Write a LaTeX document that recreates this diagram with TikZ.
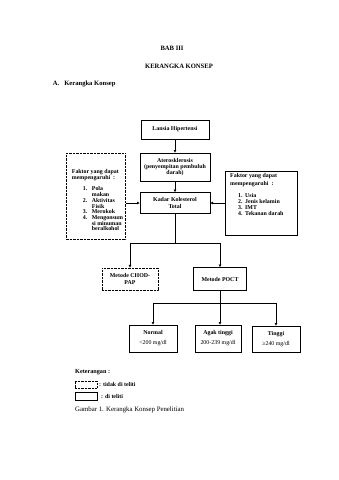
\documentclass[tikz,border=0pt]{standalone}
\usepackage{fontspec}
\setmainfont{Liberation Serif}
\usetikzlibrary{arrows.meta,calc}
\begin{document}
\begin{tikzpicture}[x=1pt,y=-1pt,
  box/.style={draw, line width=0.8pt, inner sep=1pt, align=center, font=\bfseries\fontsize{5.9}{6.4}\selectfont},
  dbox/.style={box, line width=0.9pt, dash pattern=on 0.7pt off 0.7pt},
  arr/.style={line width=0.8pt, -{Triangle[length=2.6pt,width=2.6pt]}},
  ln/.style={line width=0.8pt},
  txt/.style={inner sep=0pt, font=\bfseries\fontsize{5.9}{6.4}\selectfont},
  head/.style={inner sep=0pt, font=\bfseries\fontsize{6.6}{7}\selectfont}]
\fill[white] (0,0) rectangle (339,480);
\useasboundingbox (0,0) rectangle (339,480);

% header
\node[head] (bab) at (172,48) {BAB III};
\node[head] (judul) at (179,66) {KERANGKA KONSEP};
\node[head, anchor=west] (sub) at (52.7,84) {A.\hspace{5pt}Kerangka Konsep};

% main boxes
\node[box, minimum width=68pt, minimum height=19pt] (lansia) at (175,129.5) {Lansia Hipertensi};
\node[box, minimum width=70pt, minimum height=28pt] (atero) at (175,167) {Aterosklerosis\\(penyempitan pembuluh\\darah)};
\node[box, minimum width=70pt, minimum height=21pt] (kadar) at (175,203) {Kadar Kolesterol\\Total};

% left factor box
\node[dbox, minimum width=59pt, minimum height=86pt] (left) at (96.4,196) {};
\node[txt, anchor=base west, font=\bfseries\fontsize{5.9}{5.5}\selectfont] (lt) at (71.7,173.5) {\begin{tabular}[t]{@{}p{11pt}@{}p{9pt}@{}l@{}}
\multicolumn{3}{@{}l@{}}{Faktor yang dapat}\\
\multicolumn{3}{@{}l@{}}{mempengaruhi~~:}\\[6pt]
&1.&Pola\\
&&makan\\
&2.&Aktivitas\\
&&Fisik\\
&3.&Merokok\\
&4.&Mengonsum\\
&&si minuman\\
&&beralkohol
\end{tabular}};

% right factor box
\node[box, minimum width=72pt, minimum height=64pt] (right) at (261,203) {};
\node[txt, anchor=base west, font=\bfseries\fontsize{5.9}{6}\selectfont] (rt) at (230,177.5) {\begin{tabular}[t]{@{}p{8pt}@{}p{7pt}@{}l@{}}
\multicolumn{3}{@{}l@{}}{Faktor yang dapat}\\[1.5pt]
\multicolumn{3}{@{}l@{}}{mempengaruhi~~:}\\[6pt]
&1.&Usia\\
&2.&Jenis kelamin\\
&3.&IMT\\
&4.&Tekanan darah
\end{tabular}};

% methods
\node[dbox, minimum width=56pt, minimum height=22pt] (chod) at (130,279) {Metode CHOD-\\PAP};
\node[box, minimum width=53pt, minimum height=23pt] (poct) at (220,279) {Metode POCT};

% results
\node[box, minimum width=48pt, minimum height=27pt] (normal) at (153,338.5) {Normal\\[3.5pt]\mdseries <200 mg/dl};
\node[box, minimum width=46pt, minimum height=27pt] (agak) at (218,338.5) {Agak tinggi\\[3.5pt]\mdseries 200-239 mg/dl};
\node[box, minimum width=48pt, minimum height=26pt] (tinggi) at (276,339) {Tinggi\\[3.5pt]\mdseries ≥240 mg/dl};

% connectors
\draw[arr] (lansia) -- (atero);
\draw[arr] (atero) -- (kadar);
\draw[arr] (left.east |- kadar.west) -- (kadar.west);
\draw[arr] (right.west) -- (kadar.east);
\coordinate (j1) at (175,243);
\draw[ln] (kadar.south) -- (j1);
\draw[arr] (j1) -| (chod.north);
\draw[arr] (j1) -| (poct.north);
\coordinate (j2) at (220,303);
\draw[ln] (poct.south) -- (j2);
\draw[arr] (j2) -| (normal.north);
\draw[arr] (j2) -- (j2 |- agak.north);
\draw[arr] (j2) -| (tinggi.north);

% legend
\node[txt, anchor=west, font=\bfseries\fontsize{6.2}{7}\selectfont] (ket) at (75,372) {Keterangan :};
\node[dbox, minimum width=22pt, minimum height=7pt] (lg1) at (86,384.5) {};
\node[txt, anchor=west] (lg1t) at (99,384.5) {: tidak di teliti};
\node[box, minimum width=22pt, minimum height=8pt] (lg2) at (86,396) {};
\node[txt, anchor=west] (lg2t) at (101,396) {: di teliti};
\node[inner sep=0pt, anchor=west, font=\fontsize{6.8}{7}\selectfont] (cap) at (75,410) {Gambar 1. Kerangka Konsep Penelitian};
\end{tikzpicture}
\end{document}
